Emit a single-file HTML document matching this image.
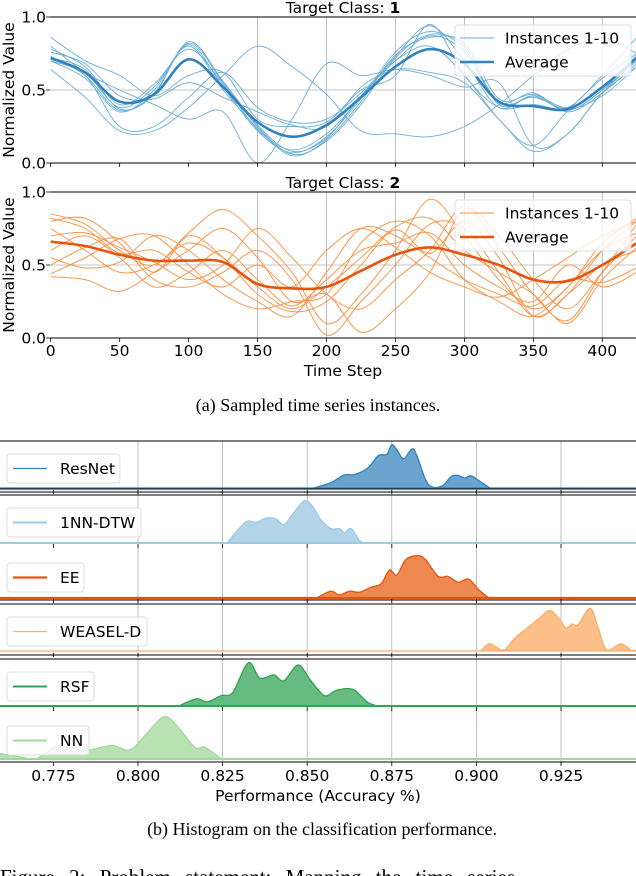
<!DOCTYPE html>
<html><head><meta charset="utf-8">
<style>
html,body{margin:0;padding:0;background:#fff;}
svg{display:block;font-family:"DejaVu Sans","Liberation Sans",sans-serif;}
.cap{font-family:"Liberation Serif",serif;}
</style></head>
<body>
<svg id="fig" width="636" height="876" viewBox="0 0 636 876" xmlns="http://www.w3.org/2000/svg">
<defs>
<clipPath id="clipTop"><rect x="50" y="0" width="586" height="170"/></clipPath>
<clipPath id="clipBot"><rect x="50" y="180" width="586" height="160"/></clipPath>
<clipPath id="clipH"><rect x="0" y="430" width="636" height="335"/></clipPath>
</defs>
<g id="tsTop"></g>
<g id="tsBot"></g>
<g id="hist"></g>
<text class="cap" x="318" y="411" font-size="18" text-anchor="middle">(a) Sampled time series instances.</text>
<text class="cap" x="322" y="835" font-size="18" text-anchor="middle">(b) Histogram on the classification performance.</text>
<text class="cap" x="0" y="884" font-size="21" word-spacing="9">Figure 2:   Problem statement: Mapping the time series</text>
</svg>
<script>
const NS="http://www.w3.org/2000/svg";
// ---- time series data ----
const timeSteps=[0,25,50,75,100,125,150,175,200,225,250,275,300,325,350,375,400,425];
const avgClass1=[.72,.62,.42,.47,.71,.52,.28,.18,.26,.45,.66,.78,.68,.42,.39,.37,.52,.72];
const instClass1=[
[.73,.60,.36,.48,.82,.55,.25,.06,.15,.40,.72,.88,.80,.40,.46,.36,.50,.70],
[.70,.58,.35,.50,.81,.52,.22,.07,.18,.44,.76,.90,.78,.42,.48,.35,.48,.68],
[.71,.62,.38,.52,.80,.50,.24,.05,.16,.42,.74,.86,.82,.44,.47,.38,.52,.72],
[.72,.64,.37,.47,.83,.56,.26,.08,.17,.46,.70,.87,.76,.41,.45,.37,.46,.66],
[.78,.66,.40,.54,.78,.54,.23,.09,.20,.45,.73,.94,.70,.38,.46,.36,.50,.74],
[.86,.70,.60,.46,.60,.62,.30,.25,.28,.50,.60,.95,.60,.38,.40,.38,.60,.86],
[.64,.45,.22,.22,.38,.60,.80,.66,.47,.22,.20,.18,.25,.40,.60,.78,.86,.75],
[.80,.62,.50,.40,.30,.35,.00,.30,.68,.60,.64,.60,.52,.55,.12,.20,.48,.66],
[.76,.68,.46,.44,.55,.45,.35,.26,.25,.52,.64,.62,.55,.30,.08,.20,.48,.70],
[.70,.60,.25,.25,.45,.62,.38,.28,.30,.48,.70,.80,.60,.30,.12,.36,.58,.75]];
const avgClass2=[.66,.63,.57,.53,.53,.52,.37,.34,.35,.46,.57,.62,.57,.50,.40,.39,.50,.65];
const instClass2=[
[.85,.78,.60,.50,.72,.88,.70,.45,.10,.30,.60,.95,.70,.40,.20,.35,.65,.82],
[.80,.82,.65,.40,.35,.45,.60,.40,.02,.25,.50,.78,.75,.45,.15,.30,.60,.80],
[.42,.40,.32,.45,.60,.75,.55,.25,.30,.04,.20,.45,.88,.70,.40,.20,.45,.70],
[.44,.55,.68,.70,.50,.30,.20,.25,.30,.65,.80,.70,.40,.25,.15,.35,.60,.72],
[.75,.60,.45,.50,.65,.55,.35,.20,.35,.55,.76,.82,.60,.45,.30,.10,.40,.62],
[.55,.48,.52,.70,.60,.40,.25,.15,.45,.75,.70,.55,.40,.30,.22,.40,.38,.48],
[.70,.72,.62,.52,.40,.50,.75,.55,.30,.20,.40,.60,.90,.62,.30,.12,.45,.78],
[.60,.70,.55,.35,.45,.60,.40,.22,.40,.60,.65,.72,.50,.35,.25,.50,.35,.45],
[.82,.75,.58,.60,.45,.35,.50,.35,.60,.75,.62,.45,.35,.28,.40,.55,.70,.80],
[.50,.62,.68,.45,.70,.55,.30,.18,.25,.50,.74,.58,.80,.55,.15,.30,.50,.60]];
const xTickLabels=["0","50","100","150","200","250","300","350","400"];
const xTickValues=[0,50,100,150,200,250,300,350,400];
const yTickValues=[0,0.5,1];
const yTickLabels=["0.0","0.5","1.0"];
// ---- histogram data ----
const models=["ResNet","1NN-DTW","EE","WEASEL-D","RSF","NN"];
const accResNet=[.852,.857,.861,.864,.868,.871,.8735,.875,.8765,.8785,.881,.8825,.885,.887,.890,.8925,.8945,.8965,.8985,.901,.904];
const denResNet=[0,.12,.29,.30,.45,.72,.75,.96,.85,.65,.87,.70,.18,.02,.05,.25,.28,.22,.27,.15,0];
const accDTW=[.8263,.8317,.835,.8377,.8407,.8431,.8455,.8492,.8517,.8541,.857,.8595,.861,.863,.8654,.8672];
const denDTW=[0,.46,.46,.55,.54,.41,.62,.94,.80,.51,.32,.32,.23,.32,.06,0];
const accEE=[.8527,.857,.8595,.8625,.8655,.8689,.8719,.8743,.8765,.8791,.8827,.885,.8887,.8916,.8946,.8977,.9007,.9037];
const denEE=[0,.15,.07,.15,.13,.24,.32,.62,.51,.85,.94,.85,.48,.48,.35,.42,.18,0];
const accWEASEL=[.9013,.904,.908,.9114,.915,.9186,.9217,.9247,.9265,.9283,.930,.9336,.936,.9384,.9427,.9457,.9475];
const denWEASEL=[0,.16,.02,.29,.51,.73,.90,.69,.51,.60,.58,.95,.51,.03,.16,.02,.02];
const accRSF=[.812,.8174,.8204,.8246,.828,.8326,.836,.8401,.8431,.8473,.8509,.8551,.8587,.8635,.8677,.8707];
const denRSF=[0,.16,.09,.23,.30,.96,.62,.69,.56,.91,.58,.23,.35,.37,.09,0];
const accNN=[.7592,.765,.77,.776,.7843,.7922,.7976,.8024,.8078,.812,.8168,.8198,.8246,.8264];
const denNN=[.12,.05,.01,.28,.19,.30,.20,.55,.94,.69,.26,.26,.01,0];
const histTicks=[0.775,0.8,0.825,0.85,0.875,0.9,0.925];
const histTickLabels=["0.775","0.800","0.825","0.850","0.875","0.900","0.925"];

const FS=15.5;
function el(tag,attrs,parent){const e=document.createElementNS(NS,tag);for(const k in attrs)e.setAttribute(k,attrs[k]);parent.appendChild(e);return e;}
const xT=t=>50.7+t*1.379;
function smooth(P){
  let d='M'+P[0][0]+','+P[0][1];
  for(let i=0;i<P.length-1;i++){
    const p0=P[Math.max(i-1,0)],p1=P[i],p2=P[i+1],p3=P[Math.min(i+2,P.length-1)];
    const c1=[p1[0]+(p2[0]-p0[0])/6,p1[1]+(p2[1]-p0[1])/6];
    const c2=[p2[0]-(p3[0]-p1[0])/6,p2[1]-(p3[1]-p1[1])/6];
    d+=' C'+c1[0]+','+c1[1]+' '+c2[0]+','+c2[1]+' '+p2[0]+','+p2[1];
  }
  return d;
}

function drawTS(gid,top,bottom,avg,inst,cInst,cAvg,titleNum,clip,showX){
  const g=document.getElementById(gid);
  const yV=v=>bottom-(bottom-top)*v;
  for(let i=0;i<xTickValues.length;i++){
    const t=xTickValues[i];
    if(t>=150){const l=el('line',{x1:xT(t),x2:xT(t),y1:top,y2:bottom,stroke:'#b0b0b0','stroke-width':0.8},g);
      }
    const tk=el('line',{x1:xT(t),x2:xT(t),y1:bottom,y2:bottom+4,stroke:'#000','stroke-width':0.8},g);
    
    if(showX){const tx=el('text',{x:xT(t),y:bottom+18,'font-size':FS,'text-anchor':'middle'},g);tx.textContent=xTickLabels[i];
      }
  }
  const gl=el('line',{x1:50,x2:636,y1:yV(0.5),y2:yV(0.5),stroke:'#b0b0b0','stroke-width':0.8},g);
  
  const lines=el('g',{'clip-path':'url(#'+clip+')'},g);
  
  inst.forEach(s=>{
    const p=el('path',{d:smooth(s.map((v,i)=>[xT(timeSteps[i]),yV(v)])),fill:'none',stroke:cInst,'stroke-width':0.9},lines);
    
  });
  const a=el('path',{d:smooth(avg.map((v,i)=>[xT(timeSteps[i]),yV(v)])),fill:'none',stroke:cAvg,'stroke-width':2.6},lines);
  
  [top,bottom].forEach(y=>{const l=el('line',{x1:50,x2:636,y1:y,y2:y,stroke:'#000','stroke-width':1},g);
    });
  for(let i=0;i<yTickValues.length;i++){
    const tk=el('line',{x1:46,x2:50,y1:yV(yTickValues[i]),y2:yV(yTickValues[i]),stroke:'#000','stroke-width':0.8},g);
    
    const tx=el('text',{x:46,y:yV(yTickValues[i])+5.5,'font-size':FS,'text-anchor':'end'},g);tx.textContent=yTickLabels[i];
    
  }
  const yl=el('text',{x:0,y:0,'font-size':FS,'text-anchor':'middle',transform:'translate(14,'+((top+bottom)/2)+') rotate(-90)'},g);
  yl.textContent='Normalized Value';
  const tt=el('text',{x:343,y:top-4,'font-size':FS,'text-anchor':'middle'},g);
  tt.innerHTML='Target Class: <tspan font-weight="bold">'+titleNum+'</tspan>';
  
  const lg=el('g',{},g);
  el('rect',{x:455,y:top+8,width:176,height:51,rx:3,fill:'rgba(255,255,255,0.8)',stroke:'#ddd'},lg);
  el('line',{x1:460,x2:494,y1:top+21,y2:top+21,stroke:cInst,'stroke-width':1},lg);
  el('line',{x1:460,x2:494,y1:top+45,y2:top+45,stroke:cAvg,'stroke-width':2.6},lg);
  const t1=el('text',{x:505,y:top+26.5,'font-size':FS},lg);t1.textContent='Instances 1-10';
  
  const t2=el('text',{x:505,y:top+50.5,'font-size':FS},lg);t2.textContent='Average';
  
  if(showX){const xl=el('text',{x:343,y:bottom+38,'font-size':FS,'text-anchor':'middle'},g);xl.textContent='Time Step';
    }
}
drawTS('tsTop',17,163,avgClass1,instClass1,'#6baed6','#3182bd','1','clipTop',false);
drawTS('tsBot',192,338,avgClass2,instClass2,'#fd8d3c','#e6550d','2','clipBot',true);

// ---- histogram ----
const hx=v=>138+(v-0.8)*3384;
const hg=document.getElementById('hist');
const panels=[
 {acc:accResNet,den:denResNet,base:488,line:'#3182bd',fill:'#6ba3cf',lw:1.2,legW:113,top:441},
 {acc:accDTW,den:denDTW,base:543,line:'#9ecae1',fill:'#b3d4e8',lw:2,legW:134,top:495},
 {acc:accEE,den:denEE,base:598,line:'#e6550d',fill:'#ee8850',lw:2.2,legW:77,top:550},
 {acc:accWEASEL,den:denWEASEL,base:651,line:'#fdae6b',fill:'#fdbf8a',lw:1.2,legW:140,top:604},
 {acc:accRSF,den:denRSF,base:706,line:'#31a354',fill:'#66bb80',lw:2,legW:87,top:659},
 {acc:accNN,den:denNN,base:759,line:'#a1d99b',fill:'#b9e2b3',lw:2,legW:82,top:713}];
histTicks.forEach(v=>{if(v>=0.8){const l=el('line',{x1:hx(v),x2:hx(v),y1:441,y2:762,stroke:'#b0b0b0','stroke-width':0.8},hg);
  }});
panels.forEach((p,i)=>{
  const pg=el('g',{'clip-path':'url(#clipH)'},hg);
  
  const yv=h=>p.base-h*45;
  const P=p.acc.map((a,k)=>[hx(a),yv(p.den[k])]);
  const d=smooth(P);
  const area=el('path',{d:'M'+P[0][0]+','+p.base+' L'+d.slice(1)+' L'+P[P.length-1][0]+','+p.base+' Z',fill:p.fill,stroke:'none'},pg);
  
  const ln=el('path',{d:d,fill:'none',stroke:p.line,'stroke-width':1.3},pg);
  
  const bl=el('line',{x1:0,x2:636,y1:p.base,y2:p.base,stroke:p.line,'stroke-width':p.lw},pg);
  
  const lg=el('g',{},hg);
  const ly=p.top+13;
  el('rect',{x:7,y:ly,width:p.legW,height:29,rx:3,fill:'rgba(255,255,255,0.8)',stroke:'#ddd'},lg);
  el('line',{x1:13,x2:47,y1:ly+14.5,y2:ly+14.5,stroke:p.line,'stroke-width':p.lw},lg);
  const t=el('text',{x:60,y:ly+20,'font-size':FS},lg);t.textContent=models[i];
  
});
[441,489,492,495,600,604,655,659,762].forEach(y=>{
  const l=el('line',{x1:0,x2:636,y1:y,y2:y,stroke:'#000','stroke-width':1},hg);
  });
[492,546,601,655,709].forEach(y=>histTicks.forEach(v=>{
  const l=el('line',{x1:hx(v),x2:hx(v),y1:y-2,y2:y+2,stroke:'#000','stroke-width':0.8},hg);
  }));
histTicks.forEach((v,i)=>{
  const tk=el('line',{x1:hx(v),x2:hx(v),y1:762,y2:766,stroke:'#000','stroke-width':0.8},hg);
  
  const t=el('text',{x:hx(v),y:781,'font-size':FS,'text-anchor':'middle'},hg);t.textContent=histTickLabels[i];
  });
const xt=el('text',{x:318,y:801,'font-size':FS,'text-anchor':'middle'},hg);xt.textContent='Performance (Accuracy %)';

</script>
</body></html>
